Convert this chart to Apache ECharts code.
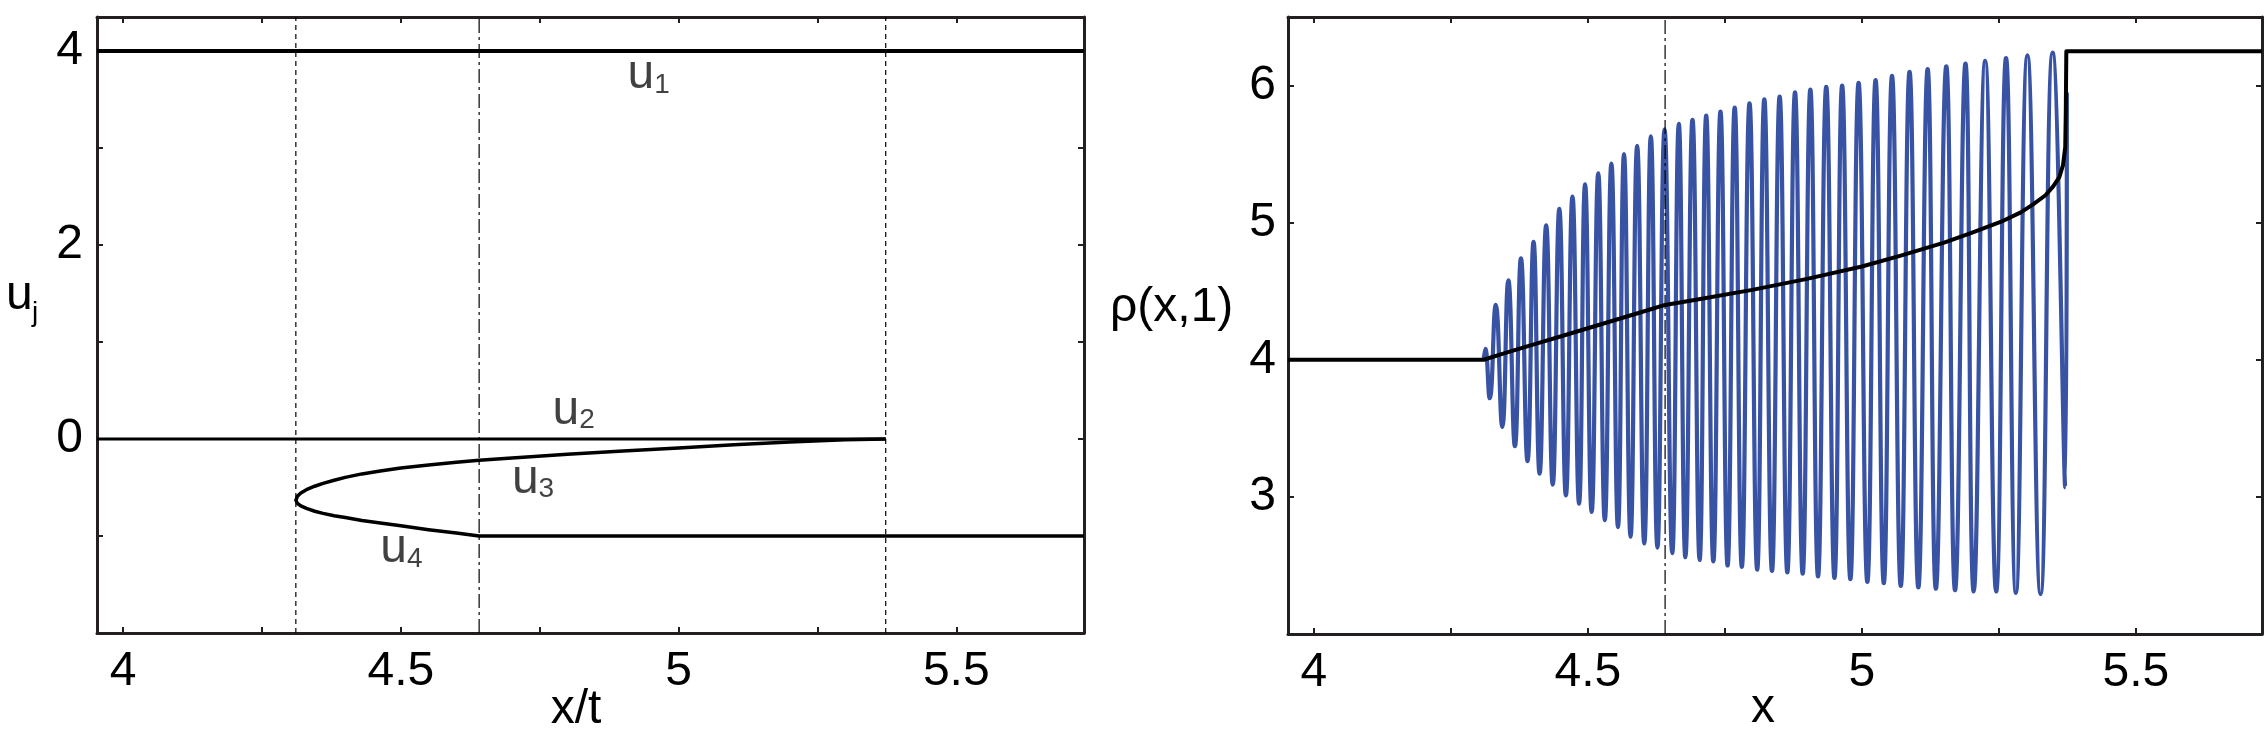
<!DOCTYPE html>
<html><head><meta charset="utf-8">
<script src="https://cdn.jsdelivr.net/npm/echarts@6/dist/echarts.min.js"></script>
<style>html,body{margin:0;padding:0;background:#fff}#c{width:2267px;height:737px}</style>
</head><body><div id="c"></div>
<script>
const FONT = '"Liberation Sans", Arial, Helvetica, sans-serif';
const INK = '#231f20';
const BLUE = '#3953a4';

// ---- axes ----
const xRange = [3.953, 5.73];
const uRange = [-2, 4.35];
const rhoRange = [2, 6.5];
const xTicks = [4, 4.25, 4.5, 4.75, 5, 5.25, 5.5];
const xTickLabels = [4, 4.5, 5, 5.5];
const uTicks = [-1, 0, 1, 2, 3, 4];
const uTickLabels = [0, 2, 4];
const rhoTicks = [3, 4, 5, 6];
const rhoTickLabels = [3, 4, 5, 6];

// ---- left panel: u_j(x/t) ----
const u1X = [3.953, 5.73];
const u1Y = [4, 4];
const u2X = [3.953, 5.373];
const u2Y = [0, 0];
const u3X = [4.311, 4.314, 4.320, 4.330, 4.345, 4.360, 4.380, 4.400, 4.430, 4.463, 4.500, 4.550, 4.600, 4.641, 4.700, 4.800, 4.900, 5.000, 5.100, 5.200, 5.300, 5.373];
const u3Y = [-0.632, -0.589, -0.557, -0.523, -0.487, -0.457, -0.425, -0.396, -0.360, -0.330, -0.300, -0.268, -0.240, -0.220, -0.195, -0.158, -0.124, -0.092, -0.060, -0.030, -0.008, 0];
const u4X = [4.311, 4.314, 4.320, 4.330, 4.345, 4.360, 4.380, 4.400, 4.430, 4.463, 4.500, 4.550, 4.600, 4.641, 5.73];
const u4Y = [-0.632, -0.665, -0.690, -0.716, -0.745, -0.767, -0.792, -0.810, -0.840, -0.865, -0.895, -0.935, -0.970, -1.0, -1.0];
const dashedGuides = [4.311, 5.373];
const dashDotGuide = 4.641;
const uLabelX = [4.908, 4.773, 4.700, 4.463];
const uLabelY = [3.626, 0.168, -0.539, -1.26];
const uLabelSub = ['1', '2', '3', '4'];

// ---- right panel: rho(x,1) ----
const rhoX = [3.953, 4.310, 4.350, 4.400, 4.450, 4.500, 4.550, 4.600, 4.641, 4.700, 4.800, 4.900, 5.000, 5.071, 5.150, 5.200, 5.253, 5.290, 5.313, 5.335, 5.349, 5.360, 5.367, 5.371, 5.372, 5.373, 5.73];
const rhoY = [4.00, 4.00, 4.05, 4.11, 4.17, 4.23, 4.29, 4.35, 4.40, 4.44, 4.51, 4.59, 4.68, 4.76, 4.855, 4.925, 5.005, 5.075, 5.135, 5.20, 5.265, 5.33, 5.42, 5.55, 5.80, 6.25, 6.25];
const blueX = [4.310, 4.313, 4.321, 4.332, 4.344, 4.355, 4.367, 4.378, 4.390, 4.401, 4.412, 4.424, 4.436, 4.448, 4.460, 4.472, 4.484, 4.495, 4.507, 4.519, 4.531, 4.543, 4.555, 4.566, 4.578, 4.590, 4.603, 4.615, 4.627, 4.640, 4.654, 4.666, 4.678, 4.691, 4.704, 4.716, 4.729, 4.742, 4.755, 4.768, 4.781, 4.795, 4.809, 4.822, 4.836, 4.850, 4.864, 4.878, 4.892, 4.906, 4.920, 4.935, 4.950, 4.964, 4.979, 4.994, 5.010, 5.025, 5.040, 5.055, 5.071, 5.087, 5.103, 5.120, 5.135, 5.154, 5.170, 5.189, 5.204, 5.225, 5.245, 5.263, 5.281, 5.302, 5.326, 5.348, 5.371, 5.374];
const blueY = [4.00, 4.08, 3.72, 4.40, 3.51, 4.58, 3.37, 4.74, 3.26, 4.86, 3.17, 4.98, 3.09, 5.10, 3.01, 5.19, 2.95, 5.28, 2.89, 5.36, 2.83, 5.43, 2.78, 5.50, 2.71, 5.56, 2.66, 5.63, 2.63, 5.68, 2.59, 5.72, 2.56, 5.75, 2.54, 5.78, 2.53, 5.81, 2.50, 5.84, 2.49, 5.87, 2.47, 5.90, 2.46, 5.92, 2.45, 5.95, 2.44, 5.97, 2.42, 5.99, 2.41, 6.00, 2.40, 6.02, 2.38, 6.04, 2.37, 6.07, 2.35, 6.10, 2.34, 6.12, 2.33, 6.14, 2.32, 6.16, 2.31, 6.18, 2.31, 6.20, 2.30, 6.22, 2.29, 6.24, 3.07, 5.95];

const zip = (xs, ys) => xs.map((x, i) => [x, ys[i]]);

function xAxis(grid, pos, showLabels) {
  return {
    type: 'value', gridIndex: grid, position: pos, min: xRange[0], max: xRange[1],
    axisLine: { show: true, onZero: false, lineStyle: { color: INK, width: 3 } },
    axisTick: { show: true, inside: true, length: 6, customValues: xTicks, lineStyle: { color: INK, width: 2 } },
    axisLabel: { show: showLabels, customValues: xTickLabels, margin: 15, fontSize: 48, fontFamily: FONT, color: '#000' },
    splitLine: { show: false }
  };
}
function yAxis(grid, pos, range, ticks, labels, showLabels, margin) {
  return {
    type: 'value', gridIndex: grid, position: pos, min: range[0], max: range[1],
    axisLine: { show: true, onZero: false, lineStyle: { color: INK, width: 3 } },
    axisTick: { show: true, inside: true, length: 6, customValues: ticks, lineStyle: { color: INK, width: 2 } },
    axisLabel: { show: showLabels, customValues: labels, margin: margin, fontSize: 48, fontFamily: FONT, color: '#000' },
    splitLine: { show: false }
  };
}
function vline(x, xi, yi, range, type) {
  return { type: 'line', xAxisIndex: xi, yAxisIndex: yi, data: [[x, range[0]], [x, range[1]]],
    symbol: 'none', silent: true, lineStyle: { color: '#000', width: 1.2, type: type } };
}

const uCurve = zip(u3X, u3Y).reverse().concat(zip(u4X, u4Y).slice(1));

const chart = echarts.init(document.getElementById('c'), null, { renderer: 'canvas' });
chart.setOption({
  animation: false,
  backgroundColor: '#fff',
  grid: [
    { left: 97, top: 17, width: 987, height: 616, containLabel: false, outerBoundsMode: 'none' },
    { left: 1288, top: 17, width: 974, height: 617, containLabel: false, outerBoundsMode: 'none' }
  ],
  xAxis: [xAxis(0, 'bottom', true), xAxis(0, 'top', false), xAxis(1, 'bottom', true), xAxis(1, 'top', false)],
  yAxis: [
    yAxis(0, 'left', uRange, uTicks, uTickLabels, true, 14),
    yAxis(0, 'right', uRange, uTicks, uTickLabels, false, 14),
    yAxis(1, 'left', rhoRange, rhoTicks, rhoTickLabels, true, 12),
    yAxis(1, 'right', rhoRange, rhoTicks, rhoTickLabels, false, 12)
  ],
  series: [
    vline(dashedGuides[0], 0, 0, uRange, [5, 4]),
    vline(dashedGuides[1], 0, 0, uRange, [5, 4]),
    vline(dashDotGuide, 0, 0, uRange, [14, 4, 3, 4]),
    { type: 'line', xAxisIndex: 0, yAxisIndex: 0, data: zip(u1X, u1Y), symbol: 'none', lineStyle: { color: '#000', width: 4 } },
    { type: 'line', xAxisIndex: 0, yAxisIndex: 0, data: zip(u2X, u2Y), symbol: 'none', lineStyle: { color: '#000', width: 3 } },
    { type: 'line', xAxisIndex: 0, yAxisIndex: 0, data: uCurve, symbol: 'none', lineStyle: { color: '#000', width: 3.5, join: 'round' } },
    { type: 'scatter', xAxisIndex: 0, yAxisIndex: 0, symbolSize: 0, silent: true,
      data: uLabelX.map((x, i) => ({ value: [x, uLabelY[i]], label: { formatter: '{u|u}{s|' + uLabelSub[i] + '}' } })),
      label: { show: true, position: [0, 0], align: 'left', verticalAlign: 'bottom', offset: [0, 12],
        rich: {
          u: { fontSize: 48, fontFamily: FONT, color: '#111', lineHeight: 48, verticalAlign: 'top', padding: [0, 0, 5, 0] },
          s: { fontSize: 28, fontFamily: FONT, color: '#111', lineHeight: 28, verticalAlign: 'bottom' }
        } } },
    { type: 'line', xAxisIndex: 2, yAxisIndex: 2, data: zip(blueX, blueY), symbol: 'none', smooth: true, lineStyle: { color: BLUE, width: 4.2 } },
    vline(dashDotGuide, 2, 2, rhoRange, [14, 4, 3, 4]),
    { type: 'line', xAxisIndex: 2, yAxisIndex: 2, data: zip(rhoX, rhoY), symbol: 'none', lineStyle: { color: '#000', width: 4, join: 'round' } }
  ],
  graphic: [
    { type: 'text', x: 576, y: 710, style: { text: 'x/t', font: '48px ' + FONT, fill: '#000', textAlign: 'center', textVerticalAlign: 'middle' } },
    { type: 'text', x: 1763, y: 709, style: { text: 'x', font: '48px ' + FONT, fill: '#000', textAlign: 'center', textVerticalAlign: 'middle' } },
    { type: 'text', x: 6, y: 296, style: { text: 'u', font: '48px ' + FONT, fill: '#000', textAlign: 'left', textVerticalAlign: 'middle' } },
    { type: 'text', x: 32, y: 313, style: { text: 'j', font: '28px ' + FONT, fill: '#000', textAlign: 'left', textVerticalAlign: 'middle' } },
    { type: 'text', x: 1110, y: 308, style: { text: 'ρ(x,1)', font: '48px ' + FONT, fill: '#000', textAlign: 'left', textVerticalAlign: 'middle' } }
  ]
});
</script></body></html>
